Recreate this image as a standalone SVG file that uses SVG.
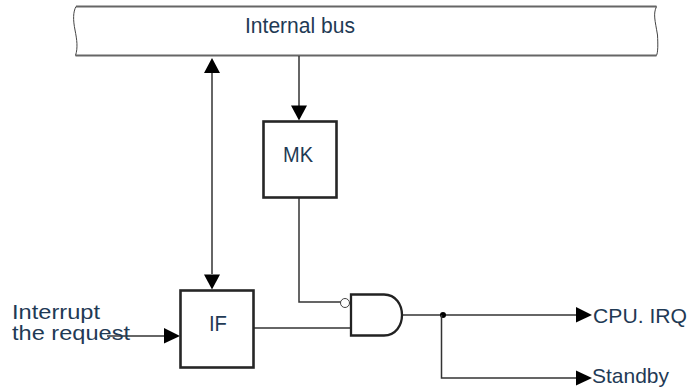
<svg xmlns="http://www.w3.org/2000/svg" width="690" height="391" viewBox="0 0 690 391">
<defs>
<style>
.t{font-family:"Liberation Sans",Arial,sans-serif;font-size:21px;fill:#1f3a55}
.l{font-size:22px}
.s{font-size:20px}
.w{fill:none;stroke:#333;stroke-width:1.5}
.b{fill:#fff;stroke:#262626;stroke-width:2.6}
.ah{fill:#000}
</style>
</defs>
<rect width="690" height="391" fill="#fff"/>
<g id="bus">
<path d="M76 6.500H656.500C653 14 655 20 657.500 35C658 45 658 52 656.500 55.500H75.500C78 48 77 40 75 30C73 20 73 12 76 6.500Z" fill="#fff" stroke="none"/>
<path d="M76 6.500H656.500M75.500 55.500H656.500" fill="none" stroke="#666" stroke-width="1.8"/>
<path d="M76 6.500C73 12 73 20 75 30C77 40 78 48 75.500 55.500M656.500 6.500C653 14 655 20 657.500 35C658 45 658 52 656.500 55.500" fill="none" stroke="#444" stroke-width="1"/>
<text class="t l" x="245" y="33" textLength="110" lengthAdjust="spacingAndGlyphs">Internal bus</text>
</g>
<g id="connectors">
<path class="w" d="M212 72V274"/>
<path class="ah" d="M212 58L204 73H220Z"/>
<path class="ah" d="M212 289.500L204 274.500H220Z"/>
<path class="w" d="M299 56V106"/>
<path class="ah" d="M299 120.500L291 105.500H307Z"/>
<path class="w" d="M299 198V302H341"/>
<path class="w" d="M254 328H351"/>
<path class="w" d="M402 315H577"/>
<circle cx="443" cy="315" r="3" fill="#000"/>
<path class="w" d="M441.500 315V378H577"/>
<path class="ah" d="M576 307V322.500L592 315Z"/>
<path class="ah" d="M576 370.500V385.500L592 378Z"/>
<path class="w" d="M107 336H165"/>
<path class="ah" d="M164 328V343.500L180 336Z"/>
</g>
<g id="mk">
<rect class="b" x="263.500" y="121.500" width="73" height="76"/>
<text class="t l" x="283" y="162" textLength="30" lengthAdjust="spacingAndGlyphs">MK</text>
</g>
<g id="if">
<rect class="b" x="180.500" y="290.500" width="73" height="77"/>
<text class="t l" x="209" y="331" textLength="18" lengthAdjust="spacingAndGlyphs">IF</text>
</g>
<g id="and">
<circle cx="345" cy="303" r="4.500" fill="#fff" stroke="#444" stroke-width="1"/>
<path d="M351 294.500H384C396 294.500 402 305 402 315C402 325 396 335.500 384 335.500H351Z" fill="#fff" stroke="#222" stroke-width="2.3"/>
</g>
<g id="labels">
<text class="t s" x="12" y="319" textLength="88" lengthAdjust="spacingAndGlyphs">Interrupt</text>
<text class="t s" x="12" y="340" textLength="118" lengthAdjust="spacingAndGlyphs">the request</text>
<text class="t" x="593" y="323" textLength="94" lengthAdjust="spacingAndGlyphs">CPU. IRQ</text>
<text class="t" x="592" y="383" textLength="77" lengthAdjust="spacingAndGlyphs">Standby</text>
</g>
</svg>
